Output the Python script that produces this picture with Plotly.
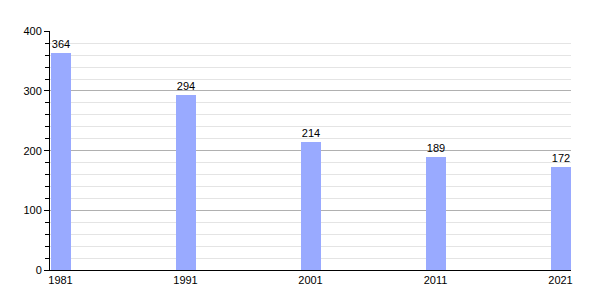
import plotly.graph_objects as go

years = [1981, 1991, 2001, 2011, 2021]
population = [364, 294, 214, 189, 172]
y_ticks = [0, 100, 200, 300, 400]

fig = go.Figure()
fig.add_trace(go.Bar(
    x=years, y=population, width=1.6,
    marker=dict(color="#99aaff", line=dict(width=0)),
    text=[str(v) for v in population], textposition="outside",
    textfont=dict(family="Liberation Sans, Arial", size=11, color="black"),
    cliponaxis=False,
))
fig.update_layout(
    width=600, height=300,
    margin=dict(l=50, r=29, t=31, b=30),
    paper_bgcolor="white", plot_bgcolor="white",
    showlegend=False,
    font=dict(family="Liberation Sans, Arial", size=11, color="black"),
    xaxis=dict(range=[1980.16, 2021.84], tickmode="array", tickvals=years,
               ticktext=[str(y) for y in years], showgrid=False,
               showline=True, linecolor="black", linewidth=1, ticks="",
               zeroline=False, ticklabelstandoff=0),
    yaxis=dict(range=[0, 400.5], tickmode="array", tickvals=y_ticks,
               showgrid=True, gridcolor="#b0b0b0", gridwidth=1,
               showline=True, linecolor="black", linewidth=1,
               ticks="outside", ticklen=5, tickcolor="black",
               zeroline=False,
               minor=dict(dtick=20, showgrid=True, gridcolor="#e4e4e4",
                          ticks="outside", ticklen=4, tickcolor="black")),
    bargap=0,
)
fig.write_html("out.html")
